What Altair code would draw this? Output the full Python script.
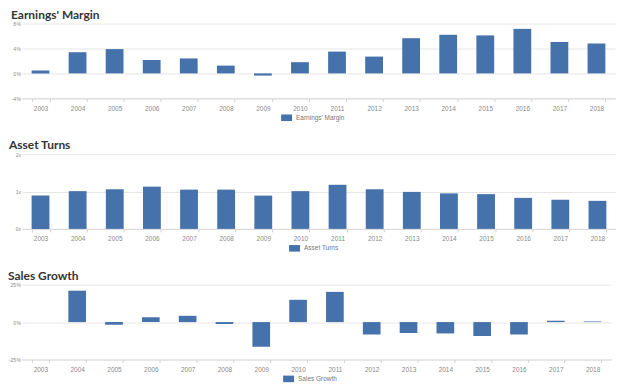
import altair as alt
import pandas as pd

years = [str(y) for y in range(2003, 2019)]
earnings_margin = [0.45, 3.4, 3.9, 2.15, 2.4, 1.25, -0.35, 1.8, 3.5, 2.7, 5.65, 6.2, 6.1, 7.15, 5.05, 4.8]
asset_turns = [0.89, 1.01, 1.06, 1.13, 1.05, 1.05, 0.89, 1.01, 1.18, 1.06, 0.99, 0.95, 0.93, 0.83, 0.78, 0.75]
sales_growth = [None, 21.0, -1.8, 3.3, 4.2, -1.3, -16.5, 14.9, 20.2, -8.3, -7.3, -7.6, -9.3, -8.3, 0.9, 0.4]

BLUE = "#4572AB"
GRID = "#e6e6e6"
LABEL = "#8a8a8a"


def panel(title, values, domain, ticks, label_expr, width, legend_x, title_dx):
    df = pd.DataFrame({"year": years, "value": values, "series": title})
    return (
        alt.Chart(df)
        .mark_bar()
        .encode(
            x=alt.X(
                "year:O",
                scale=alt.Scale(domain=years, paddingInner=0.52, paddingOuter=0.26),
                axis=alt.Axis(
                    title=None, labelAngle=0, tickBand="extent", grid=False,
                    labelFontSize=6.5, labelColor=LABEL, labelFont="Arial",
                    labelPadding=4, tickSize=3, tickColor="#cfcfcf",
                    domainColor="#d9d9d9",
                ),
            ),
            y=alt.Y(
                "value:Q",
                scale=alt.Scale(domain=domain, nice=False, zero=True),
                axis=alt.Axis(
                    title=None, values=ticks, labelExpr=label_expr, grid=True,
                    gridColor=GRID, domain=False, ticks=False,
                    labelFontSize=5, labelColor=LABEL, labelFont="Arial",
                    labelPadding=1.5,
                ),
            ),
            color=alt.Color(
                "series:N",
                scale=alt.Scale(range=[BLUE]),
                legend=alt.Legend(
                    title=None, orient="none", legendX=legend_x, legendY=89,
                    symbolType="M-1,-0.6H1V0.6H-1Z", symbolSize=121,
                    symbolStrokeWidth=0, labelFontSize=6.5, labelColor="#777777",
                    labelFont="Arial", padding=0,
                ),
            ),
        )
        .properties(
            width=width, height=75,
            title=alt.TitleParams(
                title, anchor="start", frame="group", dx=title_dx, fontSize=12,
                font="Lato", fontWeight="bold", color="#333333", offset=0,
            ),
        )
    )


p1 = panel("Earnings' Margin", earnings_margin, [-4, 8], [-4, 0, 4, 8],
           "datum.value + '\u200a%'", 595, 260, -11)
p2 = panel("Asset Turns", asset_turns, [0, 2], [0, 1, 2],
           "datum.value + 'x'", 596, 268, -13)
p3 = panel("Sales Growth", sales_growth, [-25, 25], [-25, 0, 25],
           "datum.value + '\u200a%'", 591, 262, -14)

chart = (
    alt.vconcat(p1, p2, p3, spacing=18)
    .resolve_scale(color="independent")
    .resolve_legend(color="independent")
    .properties(padding=0)
    .configure_view(stroke=None)
)

chart.save("out.html", embed_options={"renderer": "svg", "actions": False})
